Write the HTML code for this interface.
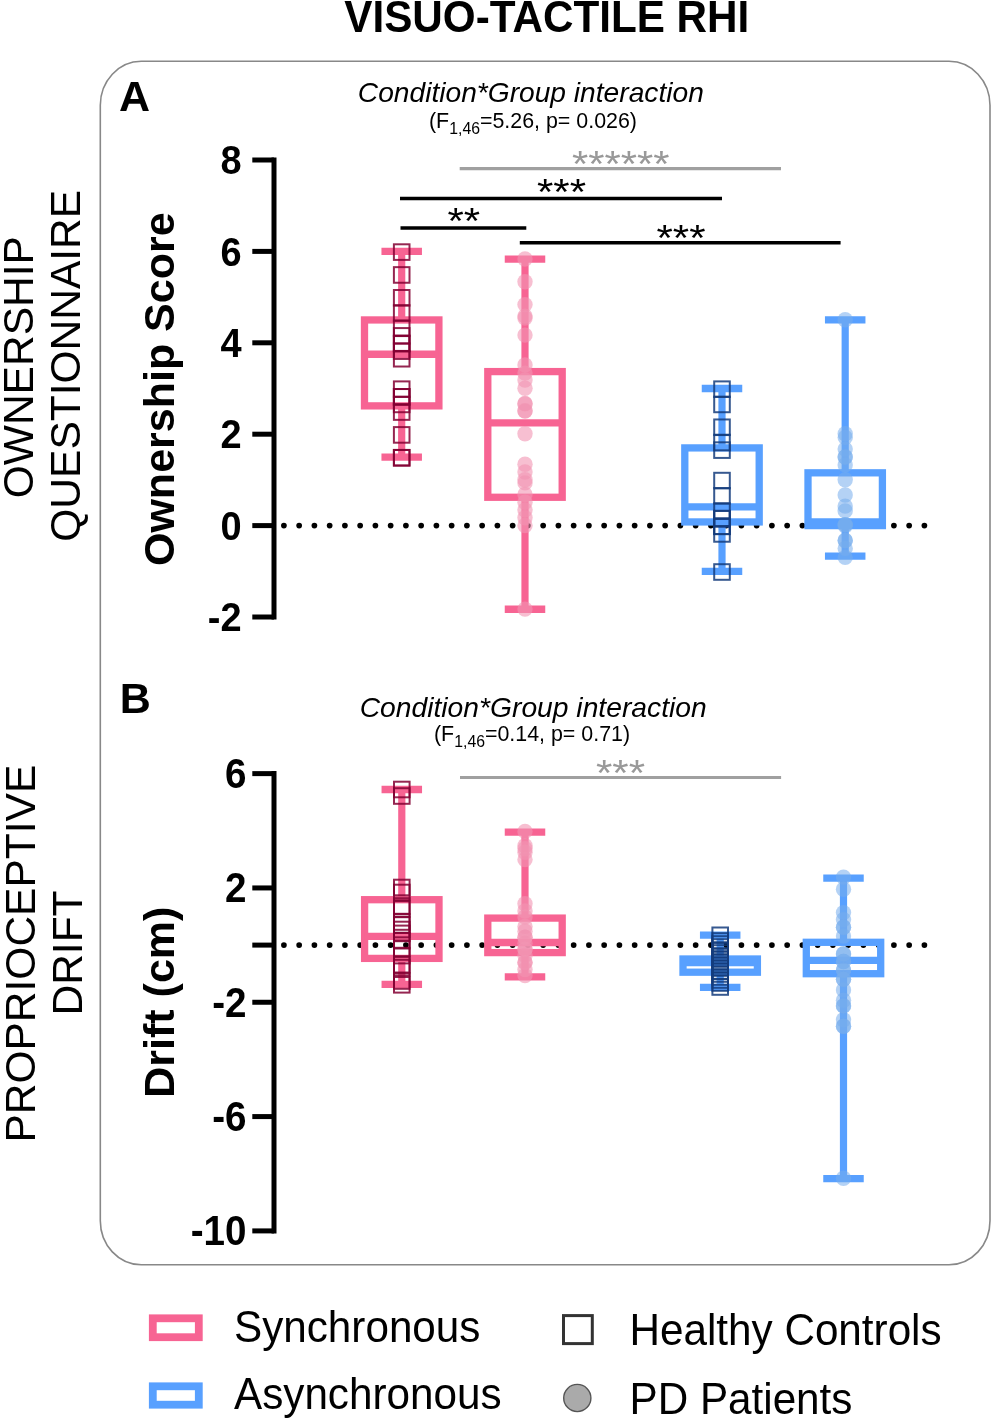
<!DOCTYPE html>
<html><head><meta charset="utf-8"><title>Visuo-tactile RHI</title>
<style>
html,body{margin:0;padding:0;background:#fff;}
body{width:992px;height:1420px;overflow:hidden;}
svg{display:block;font-family:"Liberation Sans",sans-serif;will-change:transform;}
</style></head>
<body>
<svg width="992" height="1420" viewBox="0 0 992 1420">
<text transform="translate(344.3,32.1) scale(0.96,1)" x="0" y="0" font-weight="bold" font-size="44">VISUO-TACTILE RHI</text>
<rect x="100.3" y="61.3" width="889.7" height="1203.5" rx="41" ry="44" fill="none" stroke="#888" stroke-width="1.6"/>
<text x="119" y="111" font-weight="bold" font-size="43">A</text>
<text x="119.8" y="713" font-weight="bold" font-size="43">B</text>
<text x="357.8" y="101.9" font-style="italic" font-size="28" textLength="346" lengthAdjust="spacingAndGlyphs">Condition*Group interaction</text>
<text x="429" y="127.5" font-size="21.4">(F<tspan font-size="15.8" dy="6">1,46</tspan><tspan dy="-6">=5.26, p= 0.026)</tspan></text>
<text x="359.7" y="716.7" font-style="italic" font-size="28" textLength="347" lengthAdjust="spacingAndGlyphs">Condition*Group interaction</text>
<text x="434" y="741" font-size="21.4">(F<tspan font-size="15.8" dy="6">1,46</tspan><tspan dy="-6">=0.14, p= 0.71)</tspan></text>
<text transform="translate(33.4,367.2) rotate(-90)" text-anchor="middle" font-size="42.5">OWNERSHIP</text>
<text transform="translate(80.2,365.8) rotate(-90)" text-anchor="middle" font-size="42.5">QUESTIONNAIRE</text>
<text transform="translate(34.7,953.7) rotate(-90)" text-anchor="middle" font-size="42.5">PROPRIOCEPTIVE</text>
<text transform="translate(82.4,953.0) rotate(-90)" text-anchor="middle" font-size="42.5">DRIFT</text>
<text transform="translate(173.7,389.2) rotate(-90)" text-anchor="middle" font-weight="bold" font-size="43">Ownership Score</text>
<text transform="translate(173.7,1002.2) rotate(-90)" text-anchor="middle" font-weight="bold" font-size="43">Drift (cm)</text>
<circle cx="283.90" cy="525.6" r="2.85" fill="#000"/>
<circle cx="299.15" cy="525.6" r="2.85" fill="#000"/>
<circle cx="314.40" cy="525.6" r="2.85" fill="#000"/>
<circle cx="329.65" cy="525.6" r="2.85" fill="#000"/>
<circle cx="344.90" cy="525.6" r="2.85" fill="#000"/>
<circle cx="360.15" cy="525.6" r="2.85" fill="#000"/>
<circle cx="375.40" cy="525.6" r="2.85" fill="#000"/>
<circle cx="390.65" cy="525.6" r="2.85" fill="#000"/>
<circle cx="405.90" cy="525.6" r="2.85" fill="#000"/>
<circle cx="421.15" cy="525.6" r="2.85" fill="#000"/>
<circle cx="436.40" cy="525.6" r="2.85" fill="#000"/>
<circle cx="451.65" cy="525.6" r="2.85" fill="#000"/>
<circle cx="466.90" cy="525.6" r="2.85" fill="#000"/>
<circle cx="482.15" cy="525.6" r="2.85" fill="#000"/>
<circle cx="497.40" cy="525.6" r="2.85" fill="#000"/>
<circle cx="512.65" cy="525.6" r="2.85" fill="#000"/>
<circle cx="527.90" cy="525.6" r="2.85" fill="#000"/>
<circle cx="543.15" cy="525.6" r="2.85" fill="#000"/>
<circle cx="558.40" cy="525.6" r="2.85" fill="#000"/>
<circle cx="573.65" cy="525.6" r="2.85" fill="#000"/>
<circle cx="588.90" cy="525.6" r="2.85" fill="#000"/>
<circle cx="604.15" cy="525.6" r="2.85" fill="#000"/>
<circle cx="619.40" cy="525.6" r="2.85" fill="#000"/>
<circle cx="634.65" cy="525.6" r="2.85" fill="#000"/>
<circle cx="649.90" cy="525.6" r="2.85" fill="#000"/>
<circle cx="665.15" cy="525.6" r="2.85" fill="#000"/>
<circle cx="680.40" cy="525.6" r="2.85" fill="#000"/>
<circle cx="695.65" cy="525.6" r="2.85" fill="#000"/>
<circle cx="710.90" cy="525.6" r="2.85" fill="#000"/>
<circle cx="726.15" cy="525.6" r="2.85" fill="#000"/>
<circle cx="741.40" cy="525.6" r="2.85" fill="#000"/>
<circle cx="756.65" cy="525.6" r="2.85" fill="#000"/>
<circle cx="771.90" cy="525.6" r="2.85" fill="#000"/>
<circle cx="787.15" cy="525.6" r="2.85" fill="#000"/>
<circle cx="802.40" cy="525.6" r="2.85" fill="#000"/>
<circle cx="817.65" cy="525.6" r="2.85" fill="#000"/>
<circle cx="832.90" cy="525.6" r="2.85" fill="#000"/>
<circle cx="848.15" cy="525.6" r="2.85" fill="#000"/>
<circle cx="863.40" cy="525.6" r="2.85" fill="#000"/>
<circle cx="878.65" cy="525.6" r="2.85" fill="#000"/>
<circle cx="893.90" cy="525.6" r="2.85" fill="#000"/>
<circle cx="909.15" cy="525.6" r="2.85" fill="#000"/>
<circle cx="924.40" cy="525.6" r="2.85" fill="#000"/>
<circle cx="283.90" cy="945.1" r="2.85" fill="#000"/>
<circle cx="299.15" cy="945.1" r="2.85" fill="#000"/>
<circle cx="314.40" cy="945.1" r="2.85" fill="#000"/>
<circle cx="329.65" cy="945.1" r="2.85" fill="#000"/>
<circle cx="344.90" cy="945.1" r="2.85" fill="#000"/>
<circle cx="360.15" cy="945.1" r="2.85" fill="#000"/>
<circle cx="375.40" cy="945.1" r="2.85" fill="#000"/>
<circle cx="390.65" cy="945.1" r="2.85" fill="#000"/>
<circle cx="405.90" cy="945.1" r="2.85" fill="#000"/>
<circle cx="421.15" cy="945.1" r="2.85" fill="#000"/>
<circle cx="436.40" cy="945.1" r="2.85" fill="#000"/>
<circle cx="451.65" cy="945.1" r="2.85" fill="#000"/>
<circle cx="466.90" cy="945.1" r="2.85" fill="#000"/>
<circle cx="482.15" cy="945.1" r="2.85" fill="#000"/>
<circle cx="497.40" cy="945.1" r="2.85" fill="#000"/>
<circle cx="512.65" cy="945.1" r="2.85" fill="#000"/>
<circle cx="527.90" cy="945.1" r="2.85" fill="#000"/>
<circle cx="543.15" cy="945.1" r="2.85" fill="#000"/>
<circle cx="558.40" cy="945.1" r="2.85" fill="#000"/>
<circle cx="573.65" cy="945.1" r="2.85" fill="#000"/>
<circle cx="588.90" cy="945.1" r="2.85" fill="#000"/>
<circle cx="604.15" cy="945.1" r="2.85" fill="#000"/>
<circle cx="619.40" cy="945.1" r="2.85" fill="#000"/>
<circle cx="634.65" cy="945.1" r="2.85" fill="#000"/>
<circle cx="649.90" cy="945.1" r="2.85" fill="#000"/>
<circle cx="665.15" cy="945.1" r="2.85" fill="#000"/>
<circle cx="680.40" cy="945.1" r="2.85" fill="#000"/>
<circle cx="695.65" cy="945.1" r="2.85" fill="#000"/>
<circle cx="710.90" cy="945.1" r="2.85" fill="#000"/>
<circle cx="726.15" cy="945.1" r="2.85" fill="#000"/>
<circle cx="741.40" cy="945.1" r="2.85" fill="#000"/>
<circle cx="756.65" cy="945.1" r="2.85" fill="#000"/>
<circle cx="771.90" cy="945.1" r="2.85" fill="#000"/>
<circle cx="787.15" cy="945.1" r="2.85" fill="#000"/>
<circle cx="802.40" cy="945.1" r="2.85" fill="#000"/>
<circle cx="817.65" cy="945.1" r="2.85" fill="#000"/>
<circle cx="832.90" cy="945.1" r="2.85" fill="#000"/>
<circle cx="848.15" cy="945.1" r="2.85" fill="#000"/>
<circle cx="863.40" cy="945.1" r="2.85" fill="#000"/>
<circle cx="878.65" cy="945.1" r="2.85" fill="#000"/>
<circle cx="893.90" cy="945.1" r="2.85" fill="#000"/>
<circle cx="909.15" cy="945.1" r="2.85" fill="#000"/>
<circle cx="924.40" cy="945.1" r="2.85" fill="#000"/>
<line x1="274" y1="157.4" x2="274" y2="619.6" stroke="#000" stroke-width="5"/>
<line x1="252.3" y1="160.0" x2="274" y2="160.0" stroke="#000" stroke-width="5"/>
<line x1="252.3" y1="251.39999999999998" x2="274" y2="251.39999999999998" stroke="#000" stroke-width="5"/>
<line x1="252.3" y1="342.8" x2="274" y2="342.8" stroke="#000" stroke-width="5"/>
<line x1="252.3" y1="434.20000000000005" x2="274" y2="434.20000000000005" stroke="#000" stroke-width="5"/>
<line x1="252.3" y1="525.6" x2="274" y2="525.6" stroke="#000" stroke-width="5"/>
<line x1="252.3" y1="617.0" x2="274" y2="617.0" stroke="#000" stroke-width="5"/>
<text x="0" y="0" transform="translate(241.6,174.29) scale(0.92,1)" text-anchor="end" font-weight="bold" font-size="41.3">8</text>
<text x="0" y="0" transform="translate(241.6,265.69) scale(0.92,1)" text-anchor="end" font-weight="bold" font-size="41.3">6</text>
<text x="0" y="0" transform="translate(241.6,357.09) scale(0.92,1)" text-anchor="end" font-weight="bold" font-size="41.3">4</text>
<text x="0" y="0" transform="translate(241.6,448.49) scale(0.92,1)" text-anchor="end" font-weight="bold" font-size="41.3">2</text>
<text x="0" y="0" transform="translate(241.6,539.89) scale(0.92,1)" text-anchor="end" font-weight="bold" font-size="41.3">0</text>
<text x="0" y="0" transform="translate(241.6,631.29) scale(0.92,1)" text-anchor="end" font-weight="bold" font-size="41.3">-2</text>
<line x1="274" y1="771.02" x2="274" y2="1233.5" stroke="#000" stroke-width="5"/>
<line x1="252.3" y1="773.62" x2="274" y2="773.62" stroke="#000" stroke-width="5"/>
<line x1="252.3" y1="887.94" x2="274" y2="887.94" stroke="#000" stroke-width="5"/>
<line x1="252.3" y1="945.1" x2="274" y2="945.1" stroke="#000" stroke-width="5"/>
<line x1="252.3" y1="1002.26" x2="274" y2="1002.26" stroke="#000" stroke-width="5"/>
<line x1="252.3" y1="1116.58" x2="274" y2="1116.58" stroke="#000" stroke-width="5"/>
<line x1="252.3" y1="1230.9" x2="274" y2="1230.9" stroke="#000" stroke-width="5"/>
<text x="0" y="0" transform="translate(246.5,788.16) scale(0.92,1)" text-anchor="end" font-weight="bold" font-size="42">6</text>
<text x="0" y="0" transform="translate(246.5,902.48) scale(0.92,1)" text-anchor="end" font-weight="bold" font-size="42">2</text>
<text x="0" y="0" transform="translate(246.5,1016.80) scale(0.92,1)" text-anchor="end" font-weight="bold" font-size="42">-2</text>
<text x="0" y="0" transform="translate(246.5,1131.12) scale(0.92,1)" text-anchor="end" font-weight="bold" font-size="42">-6</text>
<text x="0" y="0" transform="translate(246.5,1245.44) scale(0.92,1)" text-anchor="end" font-weight="bold" font-size="42">-10</text>
<line x1="401.7" y1="251.39999999999998" x2="401.7" y2="319.95000000000005" stroke="rgb(247,100,147)" stroke-width="7.2"/>
<line x1="401.7" y1="405.866" x2="401.7" y2="457.05" stroke="rgb(247,100,147)" stroke-width="7.2"/>
<line x1="381.45" y1="251.39999999999998" x2="421.95" y2="251.39999999999998" stroke="rgb(247,100,147)" stroke-width="7.3"/>
<line x1="381.45" y1="457.05" x2="421.95" y2="457.05" stroke="rgb(247,100,147)" stroke-width="7.3"/>
<rect x="364.50" y="319.95" width="74.4" height="85.92" fill="none" stroke="rgb(247,100,147)" stroke-width="7.3" stroke-linejoin="miter"/>
<line x1="364.50" y1="354.23" x2="438.90" y2="354.23" stroke="rgb(247,100,147)" stroke-width="7.3"/>
<line x1="525" y1="259.169" x2="525" y2="371.591" stroke="rgb(247,100,147)" stroke-width="7.2"/>
<line x1="525" y1="497.266" x2="525" y2="609.231" stroke="rgb(247,100,147)" stroke-width="7.2"/>
<line x1="504.75" y1="259.169" x2="545.25" y2="259.169" stroke="rgb(247,100,147)" stroke-width="7.3"/>
<line x1="504.75" y1="609.231" x2="545.25" y2="609.231" stroke="rgb(247,100,147)" stroke-width="7.3"/>
<rect x="487.80" y="371.59" width="74.4" height="125.68" fill="none" stroke="rgb(247,100,147)" stroke-width="7.3" stroke-linejoin="miter"/>
<line x1="487.80" y1="422.78" x2="562.20" y2="422.78" stroke="rgb(247,100,147)" stroke-width="7.3"/>
<line x1="722" y1="388.5" x2="722" y2="447.91" stroke="rgb(88,160,255)" stroke-width="7.2"/>
<line x1="722" y1="521.9440000000001" x2="722" y2="571.3000000000001" stroke="rgb(88,160,255)" stroke-width="7.2"/>
<line x1="701.75" y1="388.5" x2="742.25" y2="388.5" stroke="rgb(88,160,255)" stroke-width="7.3"/>
<line x1="701.75" y1="571.3000000000001" x2="742.25" y2="571.3000000000001" stroke="rgb(88,160,255)" stroke-width="7.3"/>
<rect x="684.80" y="447.91" width="74.4" height="74.03" fill="none" stroke="rgb(88,160,255)" stroke-width="7.3" stroke-linejoin="miter"/>
<line x1="684.80" y1="506.86" x2="759.20" y2="506.86" stroke="rgb(88,160,255)" stroke-width="7.3"/>
<line x1="845.2" y1="319.95000000000005" x2="845.2" y2="472.8165" stroke="rgb(88,160,255)" stroke-width="7.2"/>
<line x1="845.2" y1="525.6" x2="845.2" y2="556.219" stroke="rgb(88,160,255)" stroke-width="7.2"/>
<line x1="824.95" y1="319.95000000000005" x2="865.45" y2="319.95000000000005" stroke="rgb(88,160,255)" stroke-width="7.3"/>
<line x1="824.95" y1="556.219" x2="865.45" y2="556.219" stroke="rgb(88,160,255)" stroke-width="7.3"/>
<rect x="808.00" y="472.82" width="74.4" height="52.78" fill="none" stroke="rgb(88,160,255)" stroke-width="7.3" stroke-linejoin="miter"/>
<line x1="808.00" y1="521.81" x2="882.40" y2="521.81" stroke="rgb(88,160,255)" stroke-width="7.3"/>
<line x1="401.8" y1="789.5" x2="401.8" y2="899.7" stroke="rgb(247,100,147)" stroke-width="7.2"/>
<line x1="401.8" y1="958.4" x2="401.8" y2="984.3" stroke="rgb(247,100,147)" stroke-width="7.2"/>
<line x1="381.55" y1="789.5" x2="422.05" y2="789.5" stroke="rgb(247,100,147)" stroke-width="7.3"/>
<line x1="381.55" y1="984.3" x2="422.05" y2="984.3" stroke="rgb(247,100,147)" stroke-width="7.3"/>
<rect x="364.60" y="899.70" width="74.4" height="58.70" fill="none" stroke="rgb(247,100,147)" stroke-width="7.3" stroke-linejoin="miter"/>
<line x1="364.60" y1="936.30" x2="439.00" y2="936.30" stroke="rgb(247,100,147)" stroke-width="7.3"/>
<line x1="525" y1="832.2" x2="525" y2="918.1" stroke="rgb(247,100,147)" stroke-width="7.2"/>
<line x1="525" y1="952.6" x2="525" y2="976.8" stroke="rgb(247,100,147)" stroke-width="7.2"/>
<line x1="504.75" y1="832.2" x2="545.25" y2="832.2" stroke="rgb(247,100,147)" stroke-width="7.3"/>
<line x1="504.75" y1="976.8" x2="545.25" y2="976.8" stroke="rgb(247,100,147)" stroke-width="7.3"/>
<rect x="487.80" y="918.10" width="74.4" height="34.50" fill="none" stroke="rgb(247,100,147)" stroke-width="7.3" stroke-linejoin="miter"/>
<line x1="487.80" y1="942.50" x2="562.20" y2="942.50" stroke="rgb(247,100,147)" stroke-width="7.3"/>
<line x1="720.2" y1="935.2" x2="720.2" y2="959" stroke="rgb(88,160,255)" stroke-width="7.2"/>
<line x1="720.2" y1="972.2" x2="720.2" y2="987.4" stroke="rgb(88,160,255)" stroke-width="7.2"/>
<line x1="699.95" y1="935.2" x2="740.45" y2="935.2" stroke="rgb(88,160,255)" stroke-width="7.3"/>
<line x1="699.95" y1="987.4" x2="740.45" y2="987.4" stroke="rgb(88,160,255)" stroke-width="7.3"/>
<rect x="683.00" y="959.00" width="74.4" height="13.20" fill="none" stroke="rgb(88,160,255)" stroke-width="7.3" stroke-linejoin="miter"/>
<line x1="683.00" y1="962.70" x2="757.40" y2="962.70" stroke="rgb(88,160,255)" stroke-width="7.3"/>
<line x1="843.5" y1="878.1" x2="843.5" y2="942.3" stroke="rgb(88,160,255)" stroke-width="7.2"/>
<line x1="843.5" y1="973.7" x2="843.5" y2="1178.6" stroke="rgb(88,160,255)" stroke-width="7.2"/>
<line x1="823.25" y1="878.1" x2="863.75" y2="878.1" stroke="rgb(88,160,255)" stroke-width="7.3"/>
<line x1="823.25" y1="1178.6" x2="863.75" y2="1178.6" stroke="rgb(88,160,255)" stroke-width="7.3"/>
<rect x="806.30" y="942.30" width="74.4" height="31.40" fill="none" stroke="rgb(88,160,255)" stroke-width="7.3" stroke-linejoin="miter"/>
<line x1="806.30" y1="960.40" x2="880.70" y2="960.40" stroke="rgb(88,160,255)" stroke-width="7.3"/>
<rect x="393.90" y="244.30" width="15.6" height="15.6" fill="none" stroke="rgba(130,0,50,0.85)" stroke-width="2.0"/>
<rect x="393.90" y="267.15" width="15.6" height="15.6" fill="none" stroke="rgba(130,0,50,0.85)" stroke-width="2.0"/>
<rect x="393.90" y="290.00" width="15.6" height="15.6" fill="none" stroke="rgba(130,0,50,0.85)" stroke-width="2.0"/>
<rect x="393.90" y="305.22" width="15.6" height="15.6" fill="none" stroke="rgba(130,0,50,0.85)" stroke-width="2.0"/>
<rect x="393.90" y="320.48" width="15.6" height="15.6" fill="none" stroke="rgba(130,0,50,0.85)" stroke-width="2.0"/>
<rect x="393.90" y="328.07" width="15.6" height="15.6" fill="none" stroke="rgba(130,0,50,0.85)" stroke-width="2.0"/>
<rect x="393.90" y="335.70" width="15.6" height="15.6" fill="none" stroke="rgba(130,0,50,0.85)" stroke-width="2.0"/>
<rect x="393.90" y="343.33" width="15.6" height="15.6" fill="none" stroke="rgba(130,0,50,0.85)" stroke-width="2.0"/>
<rect x="393.90" y="350.92" width="15.6" height="15.6" fill="none" stroke="rgba(130,0,50,0.85)" stroke-width="2.0"/>
<rect x="393.90" y="381.40" width="15.6" height="15.6" fill="none" stroke="rgba(130,0,50,0.85)" stroke-width="2.0"/>
<rect x="393.90" y="389.03" width="15.6" height="15.6" fill="none" stroke="rgba(130,0,50,0.85)" stroke-width="2.0"/>
<rect x="393.90" y="396.62" width="15.6" height="15.6" fill="none" stroke="rgba(130,0,50,0.85)" stroke-width="2.0"/>
<rect x="393.90" y="404.25" width="15.6" height="15.6" fill="none" stroke="rgba(130,0,50,0.85)" stroke-width="2.0"/>
<rect x="393.90" y="427.10" width="15.6" height="15.6" fill="none" stroke="rgba(130,0,50,0.85)" stroke-width="2.0"/>
<rect x="393.90" y="449.95" width="15.6" height="15.6" fill="none" stroke="rgba(130,0,50,0.85)" stroke-width="2.0"/>
<rect x="393.90" y="335.70" width="15.6" height="15.6" fill="none" stroke="rgba(130,0,50,0.85)" stroke-width="2.0"/>
<rect x="393.90" y="389.03" width="15.6" height="15.6" fill="none" stroke="rgba(130,0,50,0.85)" stroke-width="2.0"/>
<rect x="393.90" y="449.95" width="15.6" height="15.6" fill="none" stroke="rgba(130,0,50,0.85)" stroke-width="2.0"/>
<circle cx="525" cy="259.00" r="7.7" fill="rgba(242,149,178,0.6)"/>
<circle cx="525" cy="281.80" r="7.7" fill="rgba(242,149,178,0.6)"/>
<circle cx="525" cy="304.60" r="7.7" fill="rgba(242,149,178,0.6)"/>
<circle cx="525" cy="316.10" r="7.7" fill="rgba(242,149,178,0.6)"/>
<circle cx="525" cy="318.00" r="7.7" fill="rgba(242,149,178,0.6)"/>
<circle cx="525" cy="335.10" r="7.7" fill="rgba(242,149,178,0.6)"/>
<circle cx="525" cy="364.90" r="7.7" fill="rgba(242,149,178,0.6)"/>
<circle cx="525" cy="373.10" r="7.7" fill="rgba(242,149,178,0.6)"/>
<circle cx="525" cy="380.00" r="7.7" fill="rgba(242,149,178,0.6)"/>
<circle cx="525" cy="388.30" r="7.7" fill="rgba(242,149,178,0.6)"/>
<circle cx="525" cy="403.50" r="7.7" fill="rgba(242,149,178,0.6)"/>
<circle cx="525" cy="411.10" r="7.7" fill="rgba(242,149,178,0.6)"/>
<circle cx="525" cy="403.90" r="7.7" fill="rgba(242,149,178,0.6)"/>
<circle cx="525" cy="410.80" r="7.7" fill="rgba(242,149,178,0.6)"/>
<circle cx="525" cy="433.80" r="7.7" fill="rgba(242,149,178,0.6)"/>
<circle cx="525" cy="464.30" r="7.7" fill="rgba(242,149,178,0.6)"/>
<circle cx="525" cy="472.00" r="7.7" fill="rgba(242,149,178,0.6)"/>
<circle cx="525" cy="479.80" r="7.7" fill="rgba(242,149,178,0.6)"/>
<circle cx="525" cy="482.90" r="7.7" fill="rgba(242,149,178,0.6)"/>
<circle cx="525" cy="494.50" r="7.7" fill="rgba(242,149,178,0.6)"/>
<circle cx="525" cy="502.20" r="7.7" fill="rgba(242,149,178,0.6)"/>
<circle cx="525" cy="510.00" r="7.7" fill="rgba(242,149,178,0.6)"/>
<circle cx="525" cy="517.70" r="7.7" fill="rgba(242,149,178,0.6)"/>
<circle cx="525" cy="525.50" r="7.7" fill="rgba(242,149,178,0.6)"/>
<circle cx="525" cy="609.10" r="7.7" fill="rgba(242,149,178,0.6)"/>
<rect x="714.20" y="381.40" width="15.6" height="15.6" fill="none" stroke="rgba(20,60,125,0.85)" stroke-width="2.0"/>
<rect x="714.20" y="396.62" width="15.6" height="15.6" fill="none" stroke="rgba(20,60,125,0.85)" stroke-width="2.0"/>
<rect x="714.20" y="419.47" width="15.6" height="15.6" fill="none" stroke="rgba(20,60,125,0.85)" stroke-width="2.0"/>
<rect x="714.20" y="434.73" width="15.6" height="15.6" fill="none" stroke="rgba(20,60,125,0.85)" stroke-width="2.0"/>
<rect x="714.20" y="442.32" width="15.6" height="15.6" fill="none" stroke="rgba(20,60,125,0.85)" stroke-width="2.0"/>
<rect x="714.20" y="472.80" width="15.6" height="15.6" fill="none" stroke="rgba(20,60,125,0.85)" stroke-width="2.0"/>
<rect x="714.20" y="488.02" width="15.6" height="15.6" fill="none" stroke="rgba(20,60,125,0.85)" stroke-width="2.0"/>
<rect x="714.20" y="503.28" width="15.6" height="15.6" fill="none" stroke="rgba(20,60,125,0.85)" stroke-width="2.0"/>
<rect x="714.20" y="510.87" width="15.6" height="15.6" fill="none" stroke="rgba(20,60,125,0.85)" stroke-width="2.0"/>
<rect x="714.20" y="518.50" width="15.6" height="15.6" fill="none" stroke="rgba(20,60,125,0.85)" stroke-width="2.0"/>
<rect x="714.20" y="518.50" width="15.6" height="15.6" fill="none" stroke="rgba(20,60,125,0.85)" stroke-width="2.0"/>
<rect x="714.20" y="526.13" width="15.6" height="15.6" fill="none" stroke="rgba(20,60,125,0.85)" stroke-width="2.0"/>
<rect x="714.20" y="564.20" width="15.6" height="15.6" fill="none" stroke="rgba(20,60,125,0.85)" stroke-width="2.0"/>
<rect x="714.20" y="510.87" width="15.6" height="15.6" fill="none" stroke="rgba(20,60,125,0.85)" stroke-width="2.0"/>
<circle cx="845.2" cy="319.80" r="7.7" fill="rgba(119,173,237,0.55)"/>
<circle cx="845.2" cy="433.70" r="7.7" fill="rgba(119,173,237,0.55)"/>
<circle cx="845.2" cy="437.40" r="7.7" fill="rgba(119,173,237,0.55)"/>
<circle cx="845.2" cy="449.10" r="7.7" fill="rgba(119,173,237,0.55)"/>
<circle cx="845.2" cy="457.00" r="7.7" fill="rgba(119,173,237,0.55)"/>
<circle cx="845.2" cy="464.90" r="7.7" fill="rgba(119,173,237,0.55)"/>
<circle cx="845.2" cy="479.70" r="7.7" fill="rgba(119,173,237,0.55)"/>
<circle cx="845.2" cy="495.00" r="7.7" fill="rgba(119,173,237,0.55)"/>
<circle cx="845.2" cy="506.10" r="7.7" fill="rgba(119,173,237,0.55)"/>
<circle cx="845.2" cy="510.90" r="7.7" fill="rgba(119,173,237,0.55)"/>
<circle cx="845.2" cy="524.60" r="7.7" fill="rgba(119,173,237,0.55)"/>
<circle cx="845.2" cy="525.70" r="7.7" fill="rgba(119,173,237,0.55)"/>
<circle cx="845.2" cy="540.50" r="7.7" fill="rgba(119,173,237,0.55)"/>
<circle cx="845.2" cy="548.40" r="7.7" fill="rgba(119,173,237,0.55)"/>
<circle cx="845.2" cy="557.40" r="7.7" fill="rgba(119,173,237,0.55)"/>
<circle cx="845.2" cy="457.00" r="7.7" fill="rgba(119,173,237,0.55)"/>
<circle cx="845.2" cy="524.60" r="7.7" fill="rgba(119,173,237,0.55)"/>
<circle cx="845.2" cy="540.50" r="7.7" fill="rgba(119,173,237,0.55)"/>
<rect x="394.00" y="781.70" width="15.6" height="15.6" fill="none" stroke="rgba(130,0,50,0.85)" stroke-width="2.0"/>
<rect x="394.00" y="788.20" width="15.6" height="15.6" fill="none" stroke="rgba(130,0,50,0.85)" stroke-width="2.0"/>
<rect x="394.00" y="879.70" width="15.6" height="15.6" fill="none" stroke="rgba(130,0,50,0.85)" stroke-width="2.0"/>
<rect x="394.00" y="884.70" width="15.6" height="15.6" fill="none" stroke="rgba(130,0,50,0.85)" stroke-width="2.0"/>
<rect x="394.00" y="898.20" width="15.6" height="15.6" fill="none" stroke="rgba(130,0,50,0.85)" stroke-width="2.0"/>
<rect x="394.00" y="901.20" width="15.6" height="15.6" fill="none" stroke="rgba(130,0,50,0.85)" stroke-width="2.0"/>
<rect x="394.00" y="914.20" width="15.6" height="15.6" fill="none" stroke="rgba(130,0,50,0.85)" stroke-width="2.0"/>
<rect x="394.00" y="917.20" width="15.6" height="15.6" fill="none" stroke="rgba(130,0,50,0.85)" stroke-width="2.0"/>
<rect x="394.00" y="921.70" width="15.6" height="15.6" fill="none" stroke="rgba(130,0,50,0.85)" stroke-width="2.0"/>
<rect x="394.00" y="925.60" width="15.6" height="15.6" fill="none" stroke="rgba(130,0,50,0.85)" stroke-width="2.0"/>
<rect x="394.00" y="932.90" width="15.6" height="15.6" fill="none" stroke="rgba(130,0,50,0.85)" stroke-width="2.0"/>
<rect x="394.00" y="940.60" width="15.6" height="15.6" fill="none" stroke="rgba(130,0,50,0.85)" stroke-width="2.0"/>
<rect x="394.00" y="947.80" width="15.6" height="15.6" fill="none" stroke="rgba(130,0,50,0.85)" stroke-width="2.0"/>
<rect x="394.00" y="956.90" width="15.6" height="15.6" fill="none" stroke="rgba(130,0,50,0.85)" stroke-width="2.0"/>
<rect x="394.00" y="959.80" width="15.6" height="15.6" fill="none" stroke="rgba(130,0,50,0.85)" stroke-width="2.0"/>
<rect x="394.00" y="973.20" width="15.6" height="15.6" fill="none" stroke="rgba(130,0,50,0.85)" stroke-width="2.0"/>
<rect x="394.00" y="977.00" width="15.6" height="15.6" fill="none" stroke="rgba(130,0,50,0.85)" stroke-width="2.0"/>
<circle cx="525" cy="831.40" r="7.7" fill="rgba(242,149,178,0.6)"/>
<circle cx="525" cy="845.70" r="7.7" fill="rgba(242,149,178,0.6)"/>
<circle cx="525" cy="848.70" r="7.7" fill="rgba(242,149,178,0.6)"/>
<circle cx="525" cy="852.30" r="7.7" fill="rgba(242,149,178,0.6)"/>
<circle cx="525" cy="859.50" r="7.7" fill="rgba(242,149,178,0.6)"/>
<circle cx="525" cy="903.80" r="7.7" fill="rgba(242,149,178,0.6)"/>
<circle cx="525" cy="911.00" r="7.7" fill="rgba(242,149,178,0.6)"/>
<circle cx="525" cy="916.90" r="7.7" fill="rgba(242,149,178,0.6)"/>
<circle cx="525" cy="926.50" r="7.7" fill="rgba(242,149,178,0.6)"/>
<circle cx="525" cy="931.30" r="7.7" fill="rgba(242,149,178,0.6)"/>
<circle cx="525" cy="937.30" r="7.7" fill="rgba(242,149,178,0.6)"/>
<circle cx="525" cy="943.30" r="7.7" fill="rgba(242,149,178,0.6)"/>
<circle cx="525" cy="949.20" r="7.7" fill="rgba(242,149,178,0.6)"/>
<circle cx="525" cy="955.20" r="7.7" fill="rgba(242,149,178,0.6)"/>
<circle cx="525" cy="962.40" r="7.7" fill="rgba(242,149,178,0.6)"/>
<circle cx="525" cy="969.60" r="7.7" fill="rgba(242,149,178,0.6)"/>
<circle cx="525" cy="975.60" r="7.7" fill="rgba(242,149,178,0.6)"/>
<circle cx="525" cy="937.30" r="7.7" fill="rgba(242,149,178,0.6)"/>
<circle cx="525" cy="949.20" r="7.7" fill="rgba(242,149,178,0.6)"/>
<circle cx="525" cy="962.40" r="7.7" fill="rgba(242,149,178,0.6)"/>
<rect x="712.40" y="927.50" width="15.6" height="15.6" fill="none" stroke="rgba(20,60,125,0.85)" stroke-width="2.0"/>
<rect x="712.40" y="933.20" width="15.6" height="15.6" fill="none" stroke="rgba(20,60,125,0.85)" stroke-width="2.0"/>
<rect x="712.40" y="936.20" width="15.6" height="15.6" fill="none" stroke="rgba(20,60,125,0.85)" stroke-width="2.0"/>
<rect x="712.40" y="939.20" width="15.6" height="15.6" fill="none" stroke="rgba(20,60,125,0.85)" stroke-width="2.0"/>
<rect x="712.40" y="942.20" width="15.6" height="15.6" fill="none" stroke="rgba(20,60,125,0.85)" stroke-width="2.0"/>
<rect x="712.40" y="945.20" width="15.6" height="15.6" fill="none" stroke="rgba(20,60,125,0.85)" stroke-width="2.0"/>
<rect x="712.40" y="948.20" width="15.6" height="15.6" fill="none" stroke="rgba(20,60,125,0.85)" stroke-width="2.0"/>
<rect x="712.40" y="951.20" width="15.6" height="15.6" fill="none" stroke="rgba(20,60,125,0.85)" stroke-width="2.0"/>
<rect x="712.40" y="954.20" width="15.6" height="15.6" fill="none" stroke="rgba(20,60,125,0.85)" stroke-width="2.0"/>
<rect x="712.40" y="957.20" width="15.6" height="15.6" fill="none" stroke="rgba(20,60,125,0.85)" stroke-width="2.0"/>
<rect x="712.40" y="960.20" width="15.6" height="15.6" fill="none" stroke="rgba(20,60,125,0.85)" stroke-width="2.0"/>
<rect x="712.40" y="963.20" width="15.6" height="15.6" fill="none" stroke="rgba(20,60,125,0.85)" stroke-width="2.0"/>
<rect x="712.40" y="966.20" width="15.6" height="15.6" fill="none" stroke="rgba(20,60,125,0.85)" stroke-width="2.0"/>
<rect x="712.40" y="969.20" width="15.6" height="15.6" fill="none" stroke="rgba(20,60,125,0.85)" stroke-width="2.0"/>
<rect x="712.40" y="972.20" width="15.6" height="15.6" fill="none" stroke="rgba(20,60,125,0.85)" stroke-width="2.0"/>
<rect x="712.40" y="975.20" width="15.6" height="15.6" fill="none" stroke="rgba(20,60,125,0.85)" stroke-width="2.0"/>
<rect x="712.40" y="979.20" width="15.6" height="15.6" fill="none" stroke="rgba(20,60,125,0.85)" stroke-width="2.0"/>
<circle cx="843.5" cy="877.10" r="7.7" fill="rgba(119,173,237,0.55)"/>
<circle cx="843.5" cy="889.20" r="7.7" fill="rgba(119,173,237,0.55)"/>
<circle cx="843.5" cy="912.60" r="7.7" fill="rgba(119,173,237,0.55)"/>
<circle cx="843.5" cy="919.60" r="7.7" fill="rgba(119,173,237,0.55)"/>
<circle cx="843.5" cy="927.20" r="7.7" fill="rgba(119,173,237,0.55)"/>
<circle cx="843.5" cy="936.10" r="7.7" fill="rgba(119,173,237,0.55)"/>
<circle cx="843.5" cy="953.90" r="7.7" fill="rgba(119,173,237,0.55)"/>
<circle cx="843.5" cy="961.50" r="7.7" fill="rgba(119,173,237,0.55)"/>
<circle cx="843.5" cy="970.30" r="7.7" fill="rgba(119,173,237,0.55)"/>
<circle cx="843.5" cy="979.20" r="7.7" fill="rgba(119,173,237,0.55)"/>
<circle cx="843.5" cy="990.00" r="7.7" fill="rgba(119,173,237,0.55)"/>
<circle cx="843.5" cy="1000.20" r="7.7" fill="rgba(119,173,237,0.55)"/>
<circle cx="843.5" cy="1005.90" r="7.7" fill="rgba(119,173,237,0.55)"/>
<circle cx="843.5" cy="1019.80" r="7.7" fill="rgba(119,173,237,0.55)"/>
<circle cx="843.5" cy="1026.20" r="7.7" fill="rgba(119,173,237,0.55)"/>
<circle cx="843.5" cy="1178.30" r="7.7" fill="rgba(119,173,237,0.55)"/>
<circle cx="843.5" cy="927.20" r="7.7" fill="rgba(119,173,237,0.55)"/>
<circle cx="843.5" cy="953.90" r="7.7" fill="rgba(119,173,237,0.55)"/>
<circle cx="843.5" cy="961.50" r="7.7" fill="rgba(119,173,237,0.55)"/>
<circle cx="843.5" cy="970.30" r="7.7" fill="rgba(119,173,237,0.55)"/>
<circle cx="843.5" cy="979.20" r="7.7" fill="rgba(119,173,237,0.55)"/>
<circle cx="843.5" cy="1005.90" r="7.7" fill="rgba(119,173,237,0.55)"/>
<circle cx="843.5" cy="1026.20" r="7.7" fill="rgba(119,173,237,0.55)"/>
<line x1="459.7" y1="168.6" x2="781" y2="168.6" stroke="#a0a0a0" stroke-width="3.2"/>
<text transform="translate(572,177) scale(1,0.88)" font-size="42" fill="#999" textLength="97.5" lengthAdjust="spacingAndGlyphs">******</text>
<line x1="400" y1="198.5" x2="722" y2="198.5" stroke="#000" stroke-width="3.5"/>
<text transform="translate(537,205) scale(1,0.88)" font-size="42">***</text>
<line x1="400.5" y1="228" x2="526.3" y2="228" stroke="#000" stroke-width="3.5"/>
<text transform="translate(447.5,234) scale(1,0.88)" font-size="42">**</text>
<line x1="519.8" y1="242.8" x2="840.6" y2="242.8" stroke="#000" stroke-width="3.5"/>
<text transform="translate(656.5,251) scale(1,0.88)" font-size="42">***</text>
<line x1="460" y1="777.5" x2="781.1" y2="777.5" stroke="#a0a0a0" stroke-width="3.2"/>
<text transform="translate(596,786) scale(1,0.88)" font-size="42" fill="#999">***</text>
<rect x="152.8" y="1318.3" width="46" height="18.9" fill="none" stroke="rgb(247,100,147)" stroke-width="7.8"/>
<rect x="152.8" y="1386.3" width="46" height="18.4" fill="none" stroke="rgb(88,160,255)" stroke-width="7.8"/>
<text transform="translate(234,1342.3) scale(0.96,1)" font-size="44">Synchronous</text>
<text transform="translate(234,1408.7) scale(0.96,1)" font-size="44">Asynchronous</text>
<rect x="563.5" y="1315.6" width="28.8" height="28" fill="none" stroke="#333" stroke-width="3"/>
<circle cx="577.3" cy="1398" r="13.6" fill="#aaaaaa" stroke="#555" stroke-width="1.4"/>
<text transform="translate(629.5,1345) scale(0.96,1)" font-size="44">Healthy Controls</text>
<text transform="translate(629.5,1414) scale(0.96,1)" font-size="44">PD Patients</text>
</svg>
</body></html>
